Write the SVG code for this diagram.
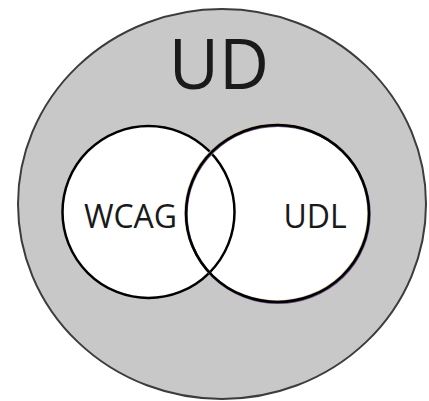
<svg xmlns="http://www.w3.org/2000/svg" width="429" height="401" viewBox="0 0 429 401">
  <style>
    .lbl { font-family: "Open Sans", "DejaVu Sans", sans-serif; fill: #1a1a1a; text-anchor: middle; }
    .inner { fill: #ffffff; }
    .ring { fill: none; stroke: #000000; stroke-width: 2.5; }
  </style>
  <rect x="0" y="0" width="429" height="401" fill="#ffffff"/>
  <g id="ud">
    <ellipse cx="222" cy="204" rx="204" ry="195" fill="#c8c8c8" stroke="#3c3c3c" stroke-width="2"/>
    <text class="lbl" x="219" y="89" font-size="69">UD</text>
  </g>
  <g id="fills">
    <circle class="inner" cx="148.5" cy="212" r="86"/>
    <ellipse class="inner" cx="277.5" cy="213.5" rx="91.5" ry="88.5"/>
  </g>
  <g id="wcag">
    <circle class="ring" cx="148.5" cy="212" r="86"/>
    <text class="lbl" x="130.5" y="228" font-size="32">WCAG</text>
  </g>
  <g id="udl">
    <ellipse cx="277" cy="213" rx="91.5" ry="88.5" fill="none" stroke="#c9b68c" stroke-width="2.5"/>
    <ellipse cx="278" cy="214.2" rx="91.5" ry="88.5" fill="none" stroke="#6b5590" stroke-width="2.5"/>
    <ellipse class="ring" cx="277.5" cy="213.5" rx="91.5" ry="88.5"/>
    <text class="lbl" x="315" y="228" font-size="32">UDL</text>
  </g>
</svg>
